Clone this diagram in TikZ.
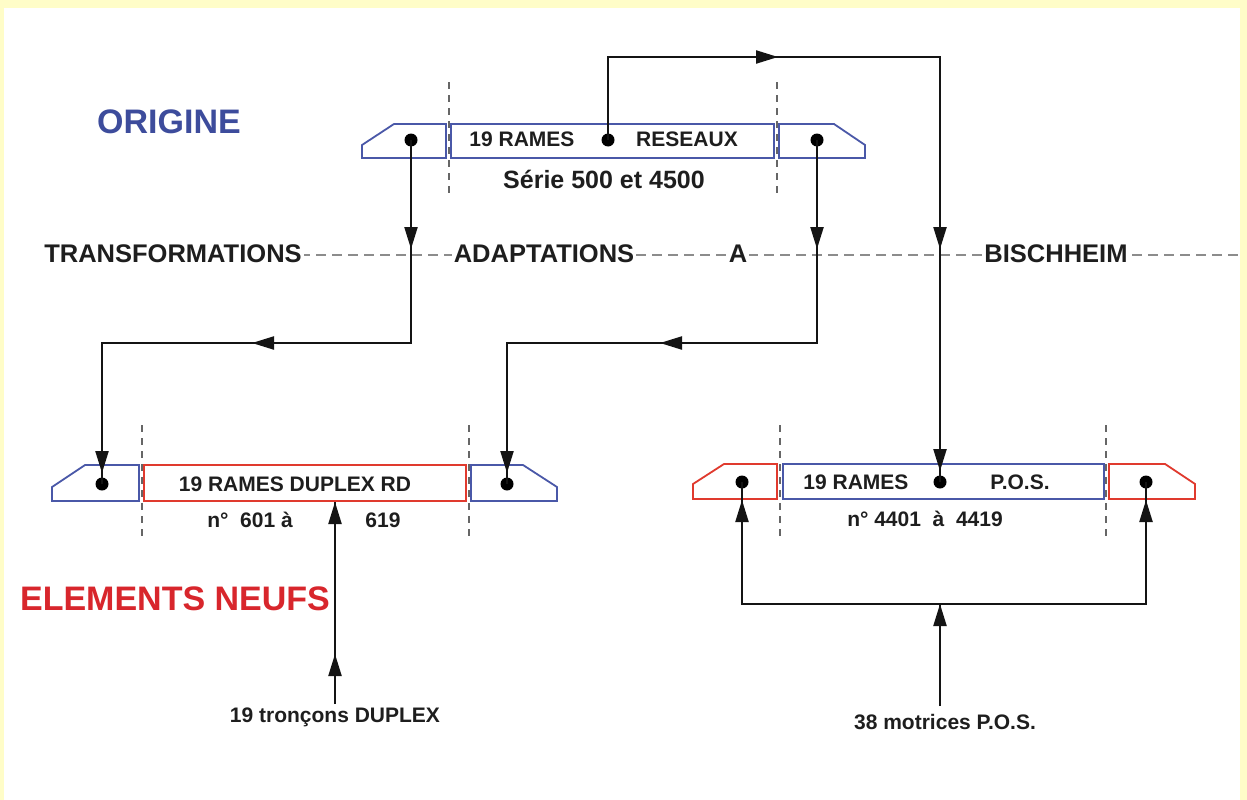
\documentclass[tikz,border=0pt]{standalone}
\usepackage{fontspec}
\setmainfont{Liberation Sans}
\usetikzlibrary{arrows.meta}
\definecolor{ublue}{HTML}{4A58A8}
\definecolor{ured}{HTML}{E03A2E}
\definecolor{tblue}{HTML}{3D4C9C}
\definecolor{tred}{HTML}{D8262C}
\definecolor{txt}{HTML}{1E1E1E}
\definecolor{frame}{HTML}{FFFDC8}
\begin{document}
\begin{tikzpicture}[x=1pt,y=-1pt,
  conn/.style={line width=2.2pt, draw=black!92},
  tipa/.style={conn,-{Triangle[length=22pt,width=13pt]}},
  dotn/.style={circle, fill=black, inner sep=0pt, minimum size=13pt},
  bluebox/.style={draw=ublue, line width=1.8pt},
  redbox/.style={draw=ured, line width=1.8pt},
  sep/.style={draw=black!60, line width=1.1pt, dash pattern=on 7pt off 6pt},
  hsep/.style={draw=black!45, line width=1.8pt, dash pattern=on 10pt off 6pt},
  lbl/.style={text=txt, font=\bfseries\fontsize{21pt}{21pt}\selectfont, inner sep=1pt},
  mid/.style={text=txt, font=\bfseries\fontsize{25.5pt}{25.5pt}\selectfont, fill=white, inner sep=2pt},
  big/.style={font=\bfseries\fontsize{34pt}{34pt}\selectfont, inner sep=0pt}]
\useasboundingbox (0,0) rectangle (1247,800);
\fill[frame] (0,0) rectangle (1247,800);
\fill[white] (4,8) rectangle (1240,800);

% horizontal dashed separator
\draw[hsep] (300,255) -- (1240,255);
\node[mid] (ltr) at (173,254) {TRANSFORMATIONS};
\node[mid] (lad) at (544,254) {ADAPTATIONS};
\node[mid] (la) at (738,254) {A};
\node[mid] (lbi) at (1056,254) {BISCHHEIM};

% titles
\node[big, text=tblue] (orig) at (169,122) {ORIGINE};
\node[big, text=tred] (neufs) at (175,599) {ELEMENTS NEUFS};

% ---- top train ----
\draw[sep] (449,82) -- (449,196);
\draw[sep] (777,82) -- (777,196);
\draw[bluebox] (362,158) -- (362,145) -- (394,124) -- (446,124) -- (446,158) -- cycle;
\draw[bluebox] (451,124) rectangle (774,158);
\draw[bluebox] (779,124) -- (834,124) -- (865,145) -- (865,158) -- (779,158) -- cycle;
\node[lbl] (t1) at (522,139) {19 RAMES};
\node[lbl] (t2) at (687,139) {RESEAUX};
\node[lbl, font=\bfseries\fontsize{25pt}{25pt}\selectfont] (t3) at (604,179) {Série 500 et 4500};
\node[dotn] (tl) at (411,140) {};
\node[dotn] (tm) at (608,140) {};
\node[dotn] (tr) at (817,140) {};

% ---- bottom-left train ----
\draw[sep] (142,425) -- (142,540);
\draw[sep] (469,425) -- (469,540);
\draw[bluebox] (52,501) -- (52,487) -- (85,465) -- (139,465) -- (139,501) -- cycle;
\draw[redbox] (144,465) rectangle (466,501);
\draw[bluebox] (471,465) -- (523,465) -- (557,487) -- (557,501) -- (471,501) -- cycle;
\node[lbl] (b1) at (295,484) {19 RAMES DUPLEX RD};
\node[lbl] (b2) at (250,520) {n°\ \ 601 à};
\node[lbl] (b3) at (383,520) {619};
\node[dotn] (bl1) at (102,484) {};
\node[dotn] (bl2) at (507,484) {};

% ---- bottom-right train ----
\draw[sep] (780,425) -- (780,540);
\draw[sep] (1106,425) -- (1106,540);
\draw[redbox] (693,499) -- (693,484) -- (724,464) -- (777,464) -- (777,499) -- cycle;
\draw[bluebox] (783,464) rectangle (1104,499);
\draw[redbox] (1109,464) -- (1165,464) -- (1195,484) -- (1195,499) -- (1109,499) -- cycle;
\node[lbl] (r1) at (856,482) {19 RAMES};
\node[lbl] (r2) at (1020,482) {P.O.S.};
\node[lbl] (r3) at (925,519) {n° 4401\ \ à\ \ 4419};
\node[dotn] (br1) at (742,482) {};
\node[dotn] (brm) at (940,482) {};
\node[dotn] (br2) at (1146,482) {};

% bottom labels
\node[lbl] (tron) at (335,717) {19 tronçons DUPLEX};
\node[lbl] (mot) at (945,722) {38 motrices P.O.S.};

% ---- connectors ----
% left cab -> bottom-left left cab
\coordinate (a1) at (411,343);
\coordinate (a2) at (102,343);
\draw[conn] (tl.center) -- (a1) -- (a2) -- (bl1.center);
\coordinate (a1s) at (411,220); \coordinate (a1t) at (411,249);
\draw[tipa] (a1s) -- (a1t);
\coordinate (a2s) at (290,343); \coordinate (a2t) at (252,343);
\draw[tipa] (a2s) -- (a2t);
\coordinate (a3s) at (102,440); \coordinate (a3t) at (102,473);
\draw[tipa] (a3s) -- (a3t);

% right cab -> bottom-left right cab
\coordinate (b1c) at (817,343);
\coordinate (b2c) at (507,343);
\draw[conn] (tr.center) -- (b1c) -- (b2c) -- (bl2.center);
\coordinate (b1s) at (817,220); \coordinate (b1t) at (817,249);
\draw[tipa] (b1s) -- (b1t);
\coordinate (b2s) at (700,343); \coordinate (b2t) at (660,343);
\draw[tipa] (b2s) -- (b2t);
\coordinate (b3s) at (507,440); \coordinate (b3t) at (507,473);
\draw[tipa] (b3s) -- (b3t);

% middle -> P.O.S. middle
\coordinate (c1) at (608,57);
\coordinate (c2) at (940,57);
\draw[conn] (tm.center) -- (c1) -- (c2) -- (brm.center);
\coordinate (c1s) at (740,57); \coordinate (c1t) at (778,57);
\draw[tipa] (c1s) -- (c1t);
\coordinate (c2s) at (940,220); \coordinate (c2t) at (940,249);
\draw[tipa] (c2s) -- (c2t);
\coordinate (c3s) at (940,440); \coordinate (c3t) at (940,471);
\draw[tipa] (c3s) -- (c3t);

% 19 troncons -> duplex
\coordinate (e1) at (335,704);
\coordinate (e2) at (335,502);
\draw[conn] (e1) -- (e2);
\coordinate (e1s) at (335,690); \coordinate (e1t) at (335,654);
\draw[tipa] (e1s) -- (e1t);
\coordinate (e2s) at (335,540);
\draw[tipa] (e2s) -- (e2);

% 38 motrices -> P.O.S. cabs
\coordinate (f0) at (940,706);
\coordinate (f1) at (940,604);
\coordinate (f2) at (742,604);
\coordinate (f3) at (1146,604);
\draw[conn] (br1.center) -- (f2) -- (f3) -- (br2.center);
\draw[conn] (f0) -- (f1);
\coordinate (f1s) at (940,650);
\draw[tipa] (f1s) -- (f1);
\coordinate (f2s) at (742,540); \coordinate (f2t) at (742,500);
\draw[tipa] (f2s) -- (f2t);
\coordinate (f3s) at (1146,540); \coordinate (f3t) at (1146,500);
\draw[tipa] (f3s) -- (f3t);
\end{tikzpicture}
\end{document}
